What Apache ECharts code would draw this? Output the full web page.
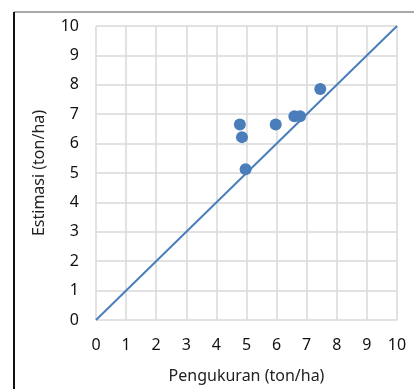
<!DOCTYPE html>
<html>
<head>
<meta charset="utf-8">
<script src="https://cdn.jsdelivr.net/npm/echarts@6/dist/echarts.min.js"></script>
<style>
  html, body { margin: 0; padding: 0; background: #fff; }
  #chart { width: 414px; height: 389px; }
</style>
</head>
<body>
<div id="chart"></div>
<script>
// data
var pengukuran = [4.78, 4.85, 4.97, 5.97, 6.59, 6.78, 7.45];
var estimasi   = [6.65, 6.22, 5.13, 6.65, 6.93, 6.93, 7.86];
var garis      = [[0, 0], [10, 10]]; // 1:1 line

var titikData = pengukuran.map(function (x, i) { return [x, estimasi[i]]; });

var myChart = echarts.init(document.getElementById('chart'));
var biru = '#4a7ebb';
var fontUmum = 'Noto Sans';

var option = {
    animation: false,
    grid: { left: 96, right: 17, top: 26, bottom: 67 },
    xAxis: {
        type: 'value', min: 0, max: 10, interval: 1,
        name: 'Pengukuran (ton/ha)',
        nameLocation: 'middle', nameGap: 48,
        nameTextStyle: { fontFamily: fontUmum, fontSize: 16, color: '#222' },
        axisLine: { show: false },
        axisTick: { show: false },
        axisLabel: { fontFamily: fontUmum, fontSize: 16, color: '#111', margin: 17 },
        splitLine: { show: true, lineStyle: { color: '#d9d9d9', width: 1.5 } }
    },
    yAxis: {
        type: 'value', min: 0, max: 10, interval: 1,
        name: 'Estimasi (ton/ha)',
        nameLocation: 'middle', nameGap: 49,
        nameTextStyle: { fontFamily: fontUmum, fontSize: 16, color: '#222' },
        axisLine: { show: false },
        axisTick: { show: false },
        axisLabel: { fontFamily: fontUmum, fontSize: 16, color: '#111', margin: 17 },
        splitLine: { show: true, lineStyle: { color: '#d9d9d9', width: 1.5 } }
    },
    graphic: [
        { type: 'line', shape: { x1: 14, y1: 12, x2: 414, y2: 12 }, style: { stroke: '#8c8c8c', lineWidth: 1.5 } },
        { type: 'line', shape: { x1: 14, y1: 12, x2: 14, y2: 389 }, style: { stroke: '#111', lineWidth: 2 } }
    ],
    series: [
        {
            type: 'line', data: garis, symbol: 'none',
            lineStyle: { color: biru, width: 2 }
        },
        {
            type: 'scatter', data: titikData, symbolSize: 12,
            itemStyle: { color: biru, opacity: 1 }
        }
    ]
};

myChart.setOption(option);
</script>
</body>
</html>
